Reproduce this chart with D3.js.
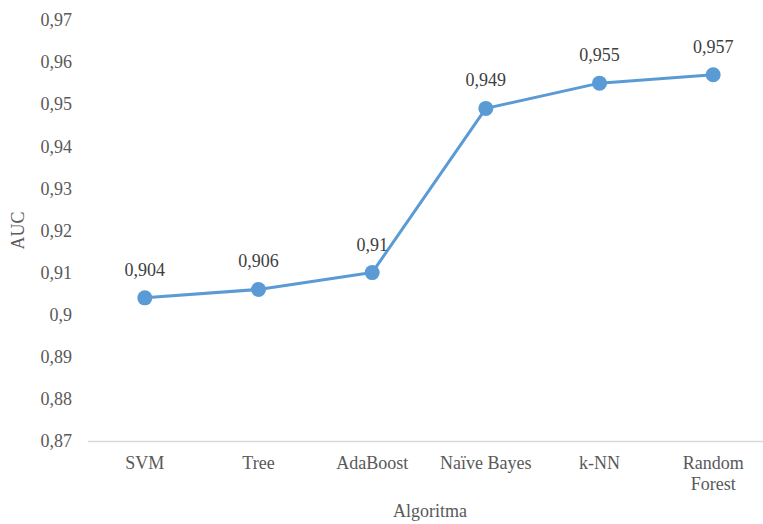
<!DOCTYPE html>
<html>
<head>
<meta charset="utf-8">
<script src="https://cdn.jsdelivr.net/npm/d3@7"></script>
<style>
  html, body { margin: 0; padding: 0; background: #fff; }
  svg text { font-family: "Liberation Serif", "Times New Roman", "DejaVu Serif", serif; }
</style>
</head>
<body>
<svg id="chart" width="763" height="524"></svg>
<script>
// AUC per algorithm
const algorithms = ["SVM", "Tree", "AdaBoost", "Naïve Bayes", "k-NN", "Random Forest"];
const aucValues = [0.904, 0.906, 0.91, 0.949, 0.955, 0.957];
const yTicks = [0.87, 0.88, 0.89, 0.9, 0.91, 0.92, 0.93, 0.94, 0.95, 0.96, 0.97];
const xTitle = "Algoritma";
const yTitle = "AUC";

const serif = "'Liberation Serif', 'Times New Roman', 'DejaVu Serif', serif";
const svg = d3.select("#chart").attr("font-family", serif);
const plotLeft = 88, plotRight = 770, plotTop = 20, plotBottom = 441;
const fontSize = 18;

const x = d3.scaleBand().domain(algorithms).range([plotLeft, plotRight]);
const y = d3.scaleLinear().domain([0.87, 0.97]).range([plotBottom, plotTop]);

const fmt = v => String(+v.toFixed(3)).replace(".", ",");

// y-axis labels (no axis line, no gridlines)
const yAxis = d3.axisLeft(y).tickValues(yTicks).tickSize(0).tickPadding(0).tickFormat(fmt);
const gy = svg.append("g").attr("transform", `translate(${plotLeft - 16},0)`).call(yAxis);
gy.attr("font-family", serif);
gy.select(".domain").remove();
gy.selectAll("text").attr("font-size", fontSize).attr("fill", "#595959").attr("font-family", serif);

// category axis line
svg.append("line")
  .attr("x1", plotLeft).attr("x2", 763)
  .attr("y1", plotBottom + 0.5).attr("y2", plotBottom + 0.5)
  .attr("stroke", "#d9d9d9").attr("stroke-width", 1.5);

// category labels, wrapped onto two lines where needed
const catG = svg.append("g");
algorithms.forEach(name => {
  const cxName = x(name) + x.bandwidth() / 2;
  const t = catG.append("text")
    .attr("x", cxName)
    .attr("y", plotBottom + 28)
    .attr("text-anchor", "middle")
    .attr("font-family", serif)
    .attr("font-size", fontSize).attr("fill", "#595959");
  const lines = name.length > 12 ? name.split(" ") : [name];
  lines.forEach((ln, i) => {
    t.append("tspan").attr("x", cxName).attr("dy", i === 0 ? 0 : 21).text(ln);
  });
});

// axis titles
svg.append("text")
  .attr("x", 430).attr("y", 517)
  .attr("text-anchor", "middle")
  .attr("font-family", serif)
  .attr("font-size", fontSize).attr("fill", "#595959")
  .text(xTitle);

svg.append("text")
  .attr("transform", `translate(24,${(plotTop + plotBottom) / 2}) rotate(-90)`)
  .attr("text-anchor", "middle")
  .attr("font-family", serif)
  .attr("font-size", fontSize).attr("fill", "#595959")
  .text(yTitle);

// series line
const cx = d => x(d.name) + x.bandwidth() / 2;
const data = algorithms.map((name, i) => ({ name, value: aucValues[i] }));

svg.append("path")
  .datum(data)
  .attr("fill", "none")
  .attr("stroke", "#5b9bd5")
  .attr("stroke-width", 3)
  .attr("stroke-linejoin", "round")
  .attr("d", d3.line().x(cx).y(d => y(d.value)));

svg.selectAll("circle.pt")
  .data(data)
  .join("circle")
  .attr("class", "pt")
  .attr("cx", cx)
  .attr("cy", d => y(d.value))
  .attr("r", 7.5)
  .attr("fill", "#5b9bd5");

// value labels
svg.selectAll("text.val")
  .data(data)
  .join("text")
  .attr("class", "val")
  .attr("x", cx)
  .attr("y", d => y(d.value) - 22)
  .attr("text-anchor", "middle")
  .attr("font-family", serif)
  .attr("font-size", fontSize).attr("fill", "#404040")
  .text(d => fmt(d.value));
</script>
</body>
</html>
